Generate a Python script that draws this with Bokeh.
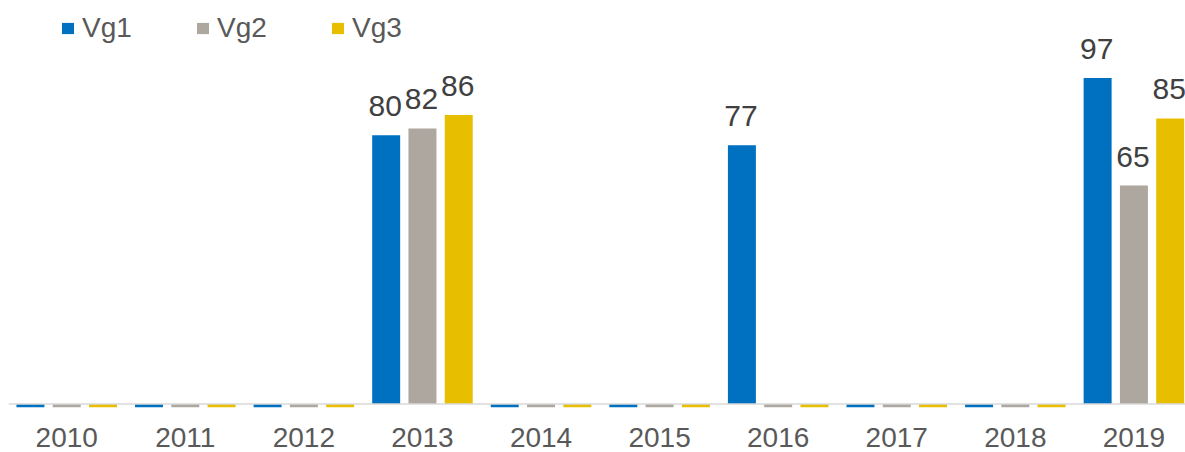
from bokeh.plotting import figure
from bokeh.models import ColumnDataSource, Range1d, Span, Legend, LegendItem, FixedTicker
from bokeh.core.properties import value
from bokeh.embed import file_html
from bokeh.resources import INLINE

years = ["2010", "2011", "2012", "2013", "2014", "2015", "2016", "2017", "2018", "2019"]
series_names = ["Vg1", "Vg2", "Vg3"]
vg1 = [0, 0, 0, 80, 0, 0, 77, 0, 0, 97]
vg2 = [0, 0, 0, 82, 0, 0, 0, 0, 0, 65]
vg3 = [0, 0, 0, 86, 0, 0, 0, 0, 0, 85]
colors = ["#0070C0", "#AEA79F", "#E8BE00"]

FONT = "Liberation Sans"
BAR_W = 0.236
PITCH = 0.306
STUB = -0.95

p = figure(width=1185, height=452, output_backend="svg", toolbar_location=None,
           x_range=Range1d(-0.491, 9.435), y_range=Range1d(-1.34, 117.7),
           y_axis_location=None, min_border_left=8, min_border_right=0,
           min_border_top=8, min_border_bottom=44)
p.outline_line_color = None
p.xgrid.visible = False
p.ygrid.visible = False
p.background_fill_color = "white"

idx = list(range(len(years)))
items = []
for k, (name, vals, col) in enumerate(zip(series_names, [vg1, vg2, vg3], colors)):
    xs = [i + (k - 1) * PITCH for i in idx]
    src = ColumnDataSource(dict(x=xs, top=vals))
    r = p.vbar(x="x", top="top", bottom=0, width=BAR_W, source=src,
               fill_color=col, line_color=None)
    items.append(LegendItem(label=name, renderers=[r]))
    zx = [x for x, v in zip(xs, vals) if v == 0]
    p.vbar(x=zx, top=0, bottom=STUB, width=BAR_W, fill_color=col, line_color=None)
    lx = [x for x, v in zip(xs, vals) if v != 0]
    lv = [v for v in vals if v != 0]
    lsrc = ColumnDataSource(dict(x=lx, y=lv, t=[str(v) for v in lv]))
    p.text(x="x", y="y", text="t", source=lsrc, text_align="center",
           text_baseline="alphabetic", y_offset=-29, x_offset=-1, text_font=value(FONT),
           text_font_size="30px", text_color="#404040")

p.add_layout(Span(location=0, dimension="width", line_color="#D9D9D9", line_width=1.5))

ax = p.xaxis[0]
ax.ticker = FixedTicker(ticks=idx)
ax.major_label_overrides = {i: y for i, y in enumerate(years)}
ax.axis_line_color = None
ax.major_tick_line_color = None
ax.minor_tick_line_color = None
ax.major_tick_out = 0
ax.major_tick_in = 0
ax.major_label_standoff = 19
ax.major_label_text_font = FONT
ax.major_label_text_font_size = "28px"
ax.major_label_text_color = "#595959"

legend = Legend(items=items, orientation="horizontal", location=(52, 364),
                glyph_width=15, glyph_height=14, label_standoff=7,
                label_width=60, spacing=53, padding=0, margin=0,
                border_line_color=None, background_fill_alpha=0,
                label_text_font=FONT, label_text_font_size="28px",
                label_text_color="#595959")
p.add_layout(legend)

open("out.html", "w").write(file_html(p, INLINE))
